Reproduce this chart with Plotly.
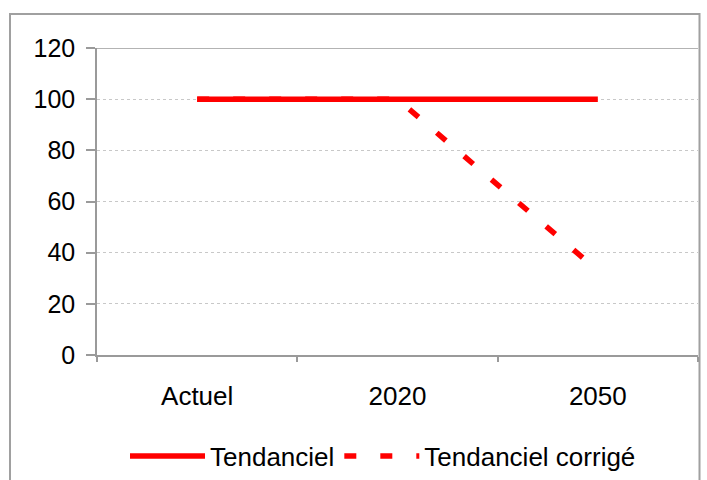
import plotly.graph_objects as go

categories = ["Actuel", "2020", "2050"]
tendanciel = [100, 100, 100]
tendanciel_corrige = [100, 100, 33]
y_ticks = [0, 20, 40, 60, 80, 100, 120]

FONT = "Liberation Sans, Arial, sans-serif"
AXIS = "#9a9a9a"

fig = go.Figure()
fig.add_trace(go.Scatter(
    x=categories, y=tendanciel, mode="lines", name="Tendanciel",
    line=dict(color="#FF0000", width=5.5),
))
fig.add_trace(go.Scatter(
    x=categories, y=tendanciel_corrige, mode="lines", name="Tendanciel corrigé",
    line=dict(color="#FF0000", width=5.5, dash="12px,24px"),
))

L, R, T, B = 97, 9, 48, 125
W, H = 707, 480
pw = W - L - R
ph = H - T - B


def px_x(x):
    return (x - L) / pw


def px_y(y):
    return (H - B - y) / ph


fig.update_layout(
    width=W, height=H,
    margin=dict(l=L, r=R, t=T, b=B, pad=0),
    paper_bgcolor="white", plot_bgcolor="white",
    font=dict(family=FONT, size=25, color="black"),
    showlegend=True,
    legend=dict(
        orientation="h", xref="container", yref="container",
        x=383 / W, xanchor="center",
        y=1 - 456 / H, yanchor="middle",
        font=dict(family=FONT, size=26, color="black"),
        itemwidth=75, bgcolor="rgba(0,0,0,0)",
        traceorder="normal",
    ),
    xaxis=dict(
        type="category", range=[-0.5, 2.5],
        showgrid=False, showline=True, linecolor=AXIS, linewidth=1.5,
        mirror=False, ticks="outside", tickson="boundaries",
        ticklen=5, tickcolor=AXIS, tickwidth=1.5,
        ticklabelstandoff=17,
        tickfont=dict(family=FONT, size=26, color="black"),
        zeroline=False, fixedrange=True, automargin=False,
    ),
    yaxis=dict(
        range=[0, 120], tickvals=y_ticks,
        showgrid=True, gridcolor="#c8c8c8", griddash="dot", gridwidth=1,
        showline=True, linecolor=AXIS, linewidth=1.5,
        ticks="outside", ticklen=9, tickcolor=AXIS, tickwidth=1.5,
        ticklabelstandoff=6,
        tickfont=dict(family=FONT, size=25, color="black"),
        zeroline=False, fixedrange=True, automargin=False,
    ),
    shapes=[
        # top line at 120
        dict(type="line", xref="paper", yref="y", x0=0, x1=1, y0=120, y1=120,
             line=dict(color=AXIS, width=1.5)),
        # outer chart border
        dict(type="rect", xref="paper", yref="paper",
             x0=px_x(10), x1=px_x(699.5), y0=px_y(14), y1=px_y(490),
             line=dict(color="#a0a0a0", width=2), fillcolor="rgba(0,0,0,0)",
             layer="below"),
    ],
)

fig.write_html("out.html")
